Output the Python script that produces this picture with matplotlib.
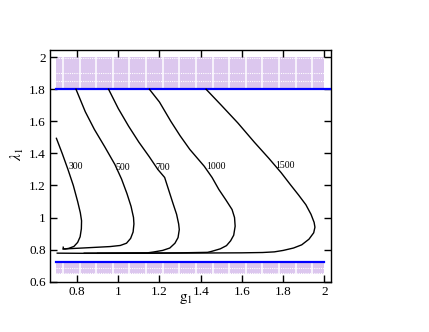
import numpy as np
import matplotlib
matplotlib.use("Agg")
import matplotlib.pyplot as plt

plt.rcParams['font.family'] = ['Liberation Serif', 'DejaVu Serif']
plt.rcParams['mathtext.fontset'] = 'stix'

# contour levels and their curves (g1, lambda1)
levels = ["300", "500", "700", "1000", "1500"]

g_300 = [0.700, 0.728, 0.756, 0.782, 0.803, 0.816, 0.822, 0.821, 0.815, 0.803, 0.785, 0.760, 0.742, 0.734, 0.733]
l_300 = [1.494, 1.400, 1.300, 1.200, 1.100, 1.030, 0.980, 0.930, 0.880, 0.845, 0.820, 0.808, 0.804, 0.805, 0.815]

g_500 = [0.795, 0.840, 0.884, 0.935, 0.984, 1.016, 1.042, 1.062, 1.074, 1.076, 1.072, 1.060, 1.040, 1.010, 0.960, 0.900, 0.826, 0.732]
l_500 = [1.800, 1.660, 1.550, 1.440, 1.330, 1.240, 1.150, 1.070, 1.000, 0.960, 0.910, 0.870, 0.840, 0.826, 0.819, 0.815, 0.810, 0.804]

g_700 = [0.953, 1.000, 1.050, 1.100, 1.150, 1.192, 1.225, 1.245, 1.265, 1.283, 1.293, 1.296, 1.290, 1.275, 1.250, 1.215, 1.170, 1.142, 1.000, 0.835]
l_700 = [1.800, 1.680, 1.570, 1.470, 1.380, 1.300, 1.250, 1.170, 1.090, 1.020, 0.960, 0.925, 0.875, 0.840, 0.810, 0.795, 0.785, 0.780, 0.779, 0.778]

g_1000 = [1.151, 1.200, 1.255, 1.300, 1.347, 1.417, 1.455, 1.488, 1.522, 1.552, 1.564, 1.567, 1.560, 1.545, 1.525, 1.495, 1.450, 1.433, 1.300, 1.100, 0.900]
l_1000 = [1.800, 1.720, 1.600, 1.510, 1.425, 1.320, 1.250, 1.175, 1.110, 1.050, 1.000, 0.946, 0.890, 0.855, 0.825, 0.805, 0.788, 0.783, 0.780, 0.778, 0.777]

g_1500 = [1.426, 1.500, 1.580, 1.660, 1.730, 1.790, 1.835, 1.875, 1.910, 1.935, 1.950, 1.954, 1.948, 1.925, 1.890, 1.850, 1.800, 1.757, 1.700, 1.600, 1.426, 1.200, 1.000, 0.835, 0.704]
l_1500 = [1.800, 1.700, 1.590, 1.470, 1.370, 1.280, 1.205, 1.140, 1.080, 1.020, 0.970, 0.940, 0.905, 0.865, 0.830, 0.810, 0.795, 0.786, 0.782, 0.780, 0.779, 0.778, 0.777, 0.777, 0.778]

label_g = [0.795, 1.024, 1.217, 1.473, 1.807]
label_l = [1.320, 1.315, 1.315, 1.317, 1.325]

# shaded forbidden bands
band_top = (1.80, 2.00)
band_bot = (0.65, 0.72)
band_g = (0.70, 2.00)

x_ticks = [0.8, 1.0, 1.2, 1.4, 1.6, 1.8, 2.0]
x_ticklabels = ["0.8", "1", "1.2", "1.4", "1.6", "1.8", "2"]
y_ticks = [0.6, 0.8, 1.0, 1.2, 1.4, 1.6, 1.8, 2.0]
y_ticklabels = ["0.6", "0.8", "1", "1.2", "1.4", "1.6", "1.8", "2"]

fig = plt.figure(figsize=(4.29, 3.32), dpi=100)
ax = fig.add_axes([0.1166, 0.1515, 0.655, 0.698])

lilac = '#dcc7ee'
for (lo, hi), dots in [(band_top, [1.995, 1.90, 1.85]), (band_bot, [0.686, 0.654])]:
    ax.fill_between(band_g, [lo, lo], [hi, hi], color=lilac, lw=0, zorder=1)
    for xv in np.arange(0.732, 1.95, 0.0806):
        ax.plot([xv, xv], [lo, hi], color='white', lw=1.1, zorder=1.5)
    for yv in dots:
        ax.plot(band_g, [yv, yv], color='white', lw=0.8, ls=(0, (1, 1)), zorder=1.5)

ax.plot([0.70, 2.032], [1.80, 1.80], color='blue', lw=1.6, zorder=3)
ax.plot([0.70, 2.00], [0.72, 0.72], color='blue', lw=1.6, zorder=3)

curves = [(g_300, l_300), (g_500, l_500), (g_700, l_700), (g_1000, l_1000), (g_1500, l_1500)]
for g, l in curves:
    ax.plot(g, l, color='black', lw=1.0, zorder=4, solid_joinstyle='round')

for name, gx, ly in zip(levels, label_g, label_l):
    ax.text(gx, ly, name, fontsize=7, ha='center', va='center', zorder=5)

ax.set_xlim(0.669, 2.032)
ax.set_ylim(0.6, 2.045)
ax.set_xticks(x_ticks)
ax.set_xticklabels(x_ticklabels)
ax.set_yticks(y_ticks)
ax.set_yticklabels(y_ticklabels)
ax.tick_params(direction='in', length=5, width=1.0, top=True, right=True,
               labelsize=9.5, pad=3)
for s in ax.spines.values():
    s.set_linewidth(1.0)

ax.set_xlabel(r'$\mathrm{g}_1$', fontsize=11)
ax.xaxis.set_label_coords(0.484, -0.045)
ax.set_ylabel(r'$\lambda_1$', fontsize=11, va='center')
ax.yaxis.set_label_coords(-0.115, 0.55)

fig.savefig('out.png', dpi=100)
